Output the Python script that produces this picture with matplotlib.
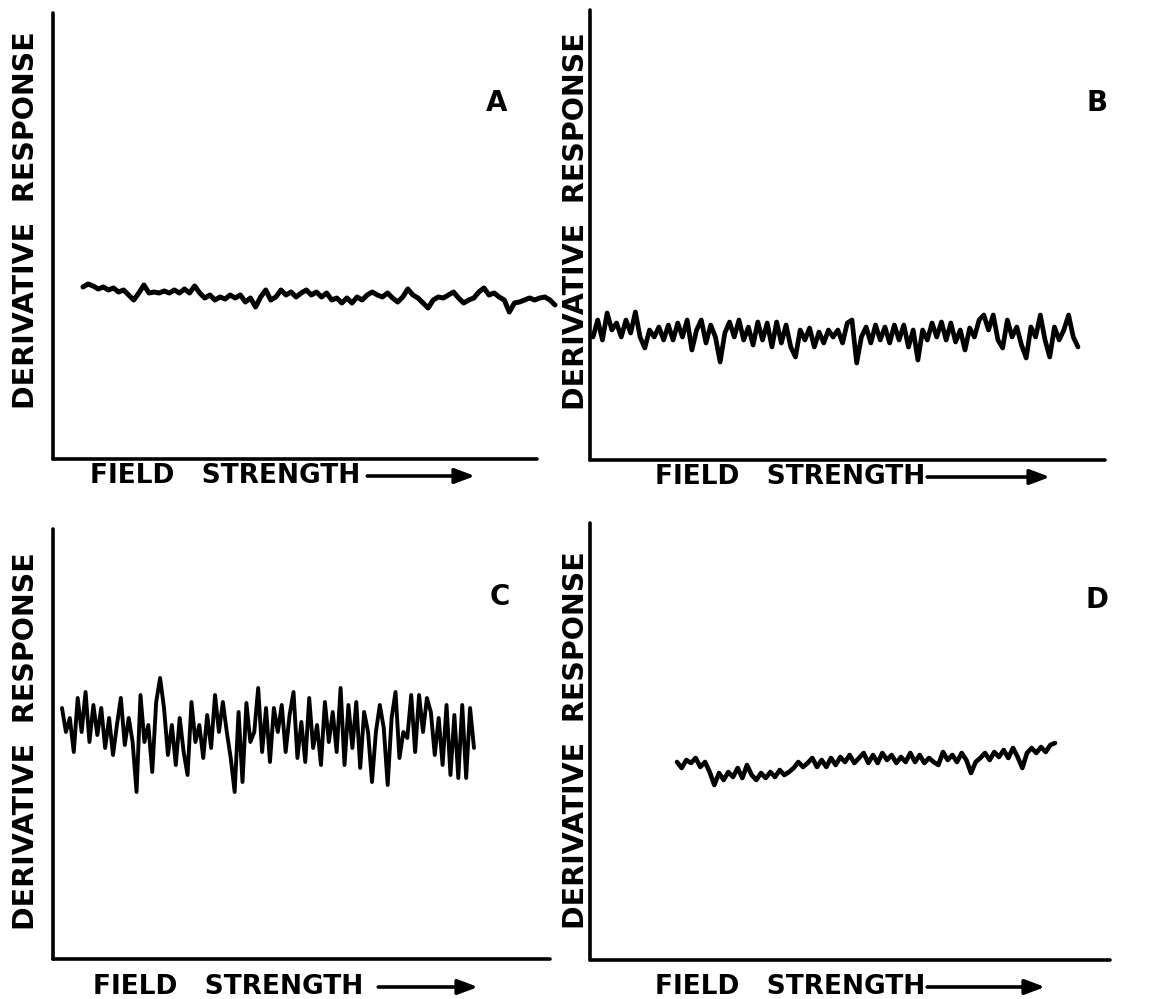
import numpy as np
import matplotlib
matplotlib.use("Agg")
import matplotlib.pyplot as plt
from matplotlib.patches import FancyArrowPatch

W, H = 1162, 999

# ---- data: derivative response traces (arbitrary units) ----
a_resp = [172, 175, 173, 170, 172, 169, 171, 167, 169, 164, 159, 166, 174, 166, 167, 166, 168, 166,
          169, 166, 170, 166, 173, 166, 161, 164, 159, 162, 160, 164, 161, 164, 157, 161, 152, 162,
          169, 159, 162, 169, 164, 167, 162, 166,
          169, 164, 167, 162, 166, 159, 161, 156, 161, 156, 162, 159, 164, 167, 164, 162, 166, 161,
          157, 162, 170, 164, 161, 156, 151, 159, 162, 161, 164, 167, 161, 156, 159, 161, 167, 171,
          164, 166, 162, 159, 147, 156, 157, 159, 161, 159, 161, 162, 159, 154]

b_resp = [123, 140, 120, 147, 130, 137, 123, 140, 127, 148, 123, 112, 130, 123, 133, 120, 135, 120,
          137, 123, 140, 110, 130, 140, 117, 135, 123, 98, 127, 138, 123, 140, 120, 133, 115, 138,
          120, 137, 113, 138, 117, 135, 113, 103, 130, 120, 132, 113, 128, 117, 130, 123,
          130, 117, 137, 140, 97, 123, 133, 117, 135, 120, 133, 117, 135, 120, 135, 113, 130, 100,
          130, 120, 137, 123, 138, 120, 137, 118, 130, 110, 132, 123, 140, 145, 130, 145, 120, 112,
          140, 123, 133, 115, 102, 133, 123, 145, 120, 103, 133, 120, 130, 145, 123, 113]

c_resp = [251, 227, 241, 207, 261, 227, 267, 217, 254, 224, 251, 211, 241, 204, 234, 261, 214, 241,
          217, 167, 264, 217, 234, 187, 257, 281, 251, 204, 234, 194, 241, 207, 184, 257, 217, 234,
          201, 244, 211, 264, 227, 257, 227, 201, 167, 247, 177, 256, 217, 227, 271, 207, 251, 197,
          251,
          227, 254, 207, 244, 267, 201, 237, 197, 261, 211, 234, 194, 257, 217, 247, 207, 271, 194,
          254, 211, 257, 191, 247, 227, 177, 227, 254, 231, 174, 241, 267, 201, 227, 221, 264, 207,
          264, 227, 261, 247, 204, 241, 194, 254, 184, 244, 181, 254, 181, 251, 211]

d_resp = [198, 192, 200, 197, 202, 193, 198, 188, 175, 187, 180, 188, 183, 192, 182, 195, 185, 180,
          187, 182, 188, 183, 190, 185, 188, 192, 198, 193, 197, 202, 193, 200, 193, 202, 195, 203,
          198, 205, 197, 202, 207, 197,
          205, 197, 207, 200, 205, 197, 203, 198, 207, 198, 205, 197, 202, 198, 195, 208, 200, 205,
          198, 207, 200, 187, 198, 202, 207, 200, 208, 203, 210, 202, 212, 203, 192, 207, 212, 207,
          213, 208, 215, 217]

# field-strength range covered by each trace (arbitrary units)
a_field = (30, 502)
b_field = (3, 488)
c_field = (9, 421)
d_field = (87, 465)

panel_letters = ["A", "B", "C", "D"]
y_title = "DERIVATIVE  RESPONSE"
x_title = "FIELD   STRENGTH"

# ---- layout (pixels): left, right, top, bottom of each panel's axes ----
boxes = [(53, 537, 13, 459), (590, 1105, 10, 460), (53, 550, 529, 959), (590, 1110, 523, 960)]
letter_pos = [(497, 103), (1097, 103), (500, 597), (1097, 600)]
ytitle_pos = [(26, 220), (576, 221), (26, 741), (576, 740)]
xtitle_pos = [(90, 476), (655, 477), (93, 987), (655, 987)]
arrow_end = [475, 1050, 478, 1045]
arrow_gap = [7, 2, 15, 2]

traces = [(a_field, a_resp, 3.6), (b_field, b_resp, 3.4), (c_field, c_resp, 2.8), (d_field, d_resp, 3.3)]

fx = lambda px: px / W
fy = lambda py: 1 - py / H

fig = plt.figure(figsize=(W / 100, H / 100), dpi=100)
fig.patch.set_facecolor("white")

xtexts = []
for i, (l, r, t, b) in enumerate(boxes):
    ax = fig.add_axes([fx(l), fy(b), (r - l) / W, (b - t) / H])
    ax.set_xlim(0, r - l)
    ax.set_ylim(0, b - t)
    for s in ["top", "right"]:
        ax.spines[s].set_visible(False)
    for s in ["left", "bottom"]:
        ax.spines[s].set_linewidth(2.6)
        ax.spines[s].set_color("black")
        ax.spines[s].set_capstyle("round")
    ax.set_xticks([])
    ax.set_yticks([])
    ax.patch.set_alpha(0)
    (f0, f1), resp, lw = traces[i]
    field = np.linspace(f0, f1, len(resp))
    ax.plot(field, resp, color="black", lw=lw, clip_on=False,
            solid_joinstyle="round", solid_capstyle="round")

    lx, ly = letter_pos[i]
    fig.text(fx(lx), fy(ly), panel_letters[i], ha="center", va="center",
             fontsize=20, fontweight="bold", family="DejaVu Sans")
    yx, yy = ytitle_pos[i]
    fig.text(fx(yx), fy(yy), y_title, ha="center", va="center", rotation=90,
             fontsize=20.5, fontweight="bold", family="DejaVu Sans")
    tx, ty = xtitle_pos[i]
    xt = fig.text(fx(tx), fy(ty), x_title, ha="left", va="center",
                  fontsize=19, fontweight="bold", family="DejaVu Sans")
    xtexts.append(xt)

fig.canvas.draw()
renderer = fig.canvas.get_renderer()
for i, xt in enumerate(xtexts):
    bb = xt.get_window_extent(renderer)
    x0 = bb.x1 + arrow_gap[i]
    ypix = xtitle_pos[i][1]
    arr = FancyArrowPatch((x0 / W, fy(ypix)), (fx(arrow_end[i]), fy(ypix)),
                          transform=fig.transFigure, arrowstyle="-|>,head_length=0.8,head_width=0.3",
                          mutation_scale=15, lw=2.6, color="black", shrinkA=0, shrinkB=0)
    fig.add_artist(arr)

fig.savefig("out.png", dpi=100, facecolor="white")
